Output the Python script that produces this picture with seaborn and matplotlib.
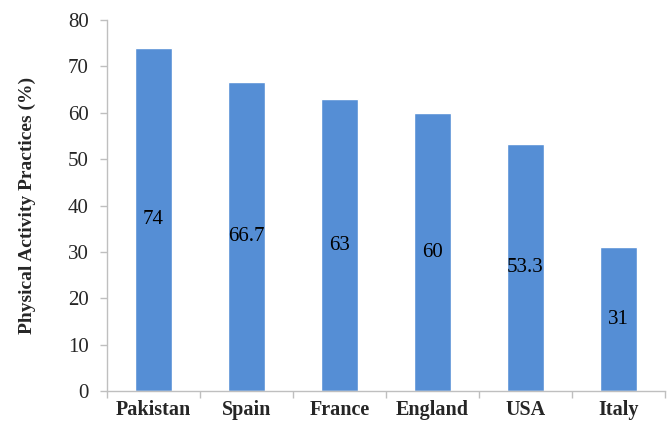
import seaborn as sns
import matplotlib.pyplot as plt
import numpy as np
import pandas as pd

# Data
countries = ['Pakistan', 'Spain', 'France', 'England', 'USA', 'Italy']
values = [74, 66.7, 63, 60, 53.3, 31]
labels = ['74', '66.7', '63', '60', '53.3', '31']

df = pd.DataFrame({'Country': countries, 'Value': values})

sns.set_theme(style='white')
plt.rcParams['font.family'] = ['Liberation Serif', 'DejaVu Serif']

fig = plt.figure(figsize=(6.69, 4.23), dpi=100)
ax = fig.add_axes([0.16, 0.075, 0.834, 0.878])

sns.barplot(data=df, x='Country', y='Value', color='#558ED5', saturation=1,
            width=0.4, ax=ax)

# value labels in the middle of each bar
for i, (v, t) in enumerate(zip(values, labels)):
    ax.text(i, v / 2, t, ha='center', va='center', fontsize=15, color='black')

ax.set_ylim(0, 80)
ax.set_xlim(-0.5, len(countries) - 0.5)
ax.set_yticks(np.arange(0, 81, 10))
ax.set_xlabel('')
ax.set_ylabel('Physical Activity Practices (%)', fontsize=14, fontweight='bold',
              labelpad=23)

for side in ['top', 'right']:
    ax.spines[side].set_visible(False)
for side in ['left', 'bottom']:
    ax.spines[side].set_color('#BFBFBF')
    ax.spines[side].set_linewidth(1)

# category separators as ticks on x axis, Excel style
ax.set_xticks(np.arange(-0.5, len(countries), 1), minor=True)
ax.tick_params(axis='x', which='minor', length=5, color='#BFBFBF', width=1,
               bottom=True)
ax.tick_params(axis='x', which='major', length=0, pad=6)
ax.tick_params(axis='y', length=5, color='#BFBFBF', width=1, left=True,
               labelsize=15, pad=8)
for lab in ax.get_xticklabels():
    lab.set_fontsize(14.5)
    lab.set_fontweight('bold')

fig.savefig('out.png', dpi=100)
